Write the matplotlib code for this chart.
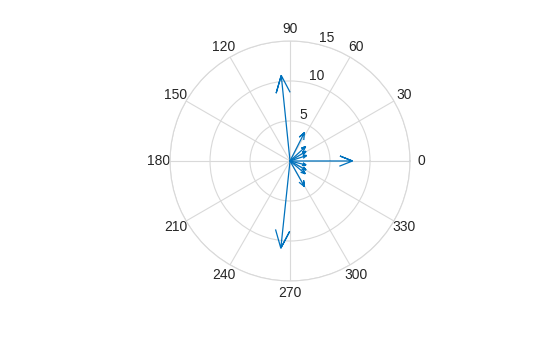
import numpy as np
import matplotlib.pyplot as plt

plt.rcParams['font.family'] = ['Liberation Sans', 'DejaVu Sans']

# arrow components (x, y)
u = [7.8, -1.1, -1.15, 1.8, 1.95, 2.0, 2.07, 2.0, 2.0, 1.9, 1.8]
v = [0.0, 10.7, -10.9, 3.55, 1.8, 1.2, 0.68, -0.5, -1.12, -1.6, -3.2]

theta_ticks = list(range(0, 360, 30))
r_ticks = [5, 10, 15]

blue = '#0072BD'
grid_gray = '#D9D9D9'

fig = plt.figure(figsize=(5.6, 3.37), dpi=100)
ax = fig.add_axes([0.3036, 0.1662, 0.4286, 0.7122], projection='polar')

# MATLAB style compass arrow: shaft plus open head (20% long, 8% half width)
shape = np.array([0, 1, 0.8 + 0.08j, 1, 0.8 - 0.08j])
for x, y in zip(u, v):
    z = shape * complex(x, y)
    ax.plot(np.angle(z), np.abs(z), color=blue, lw=0.9, solid_joinstyle='miter')

ax.set_ylim(0, 15)
ax.set_thetagrids(theta_ticks, [str(t) for t in theta_ticks])
ax.set_rgrids(r_ticks, [str(r) for r in r_ticks])
ax.set_rlabel_position(76)
ax.tick_params(axis='x', labelsize=10, pad=-2, colors='#262626')
ax.tick_params(axis='y', labelsize=10, colors='#262626')
ax.grid(True, color=grid_gray, lw=0.8)
ax.spines['polar'].set_color(grid_gray)
ax.spines['polar'].set_linewidth(0.8)

fig.savefig('out.png', dpi=100)
